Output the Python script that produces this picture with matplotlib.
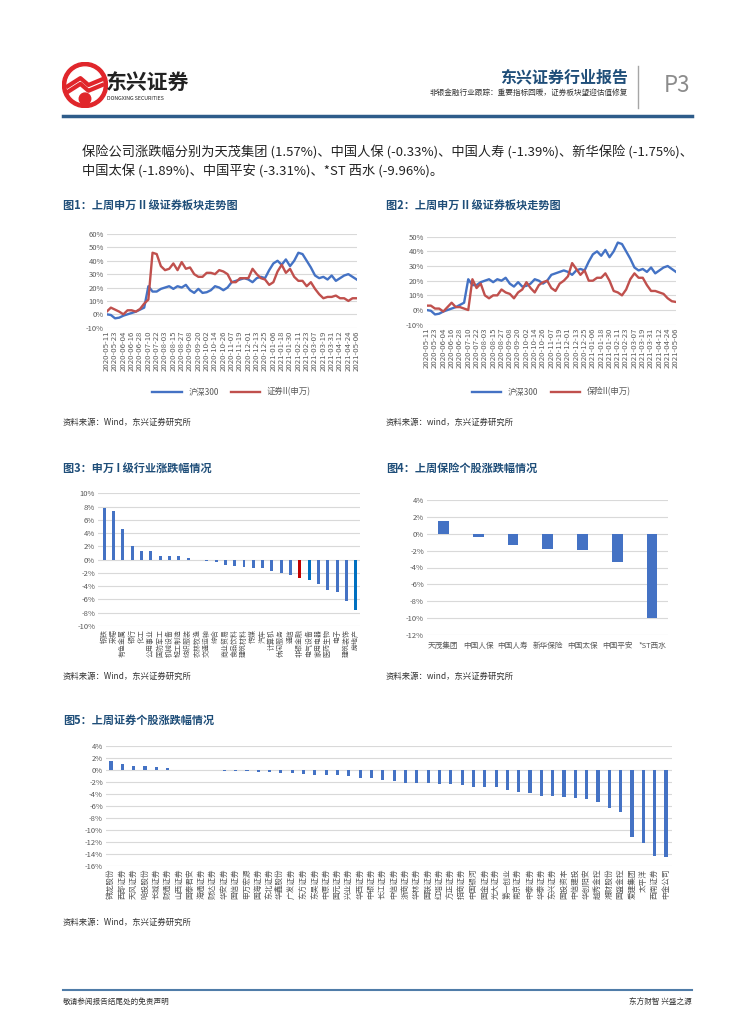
import numpy as np
import pandas as pd
import matplotlib
matplotlib.use('Agg')
import matplotlib.pyplot as plt
from matplotlib.patches import Circle
from matplotlib.ticker import FuncFormatter

plt.rcParams['font.family'] = ['Noto Sans CJK SC', 'DejaVu Sans']

W, H = 755, 1024

# ---- data ----
line_dates = pd.date_range('2020-05-11', periods=61, freq='6D')
date_ticks = pd.date_range('2020-05-11', periods=31, freq='12D').strftime('%Y-%m-%d').tolist()

hs300 = [0, -0.5, -3, -2.5, -1, 0, 1, 2, 3.5, 5, 21, 17, 17, 19, 20, 21, 19, 21, 20, 22,
         18, 16, 19, 16, 16.5, 18, 21, 20, 18, 20, 24, 25, 26, 27, 26, 24, 27, 28, 27, 33,
         38, 40, 37, 41, 36, 40, 46, 45, 40, 35, 29, 27, 28, 26, 29, 25, 27, 29, 30, 28, 26]
sec2 = [2, 5, 3.5, 2, 0, 3, 3, 2, 4, 8, 11, 46, 45, 36, 33, 34, 38, 33, 39, 34,
        35, 30, 28, 28, 31, 31, 30, 33, 32, 30, 24, 24, 27, 27, 27, 34, 30, 27, 26, 22,
        24, 32, 37, 31, 34, 28, 25, 25, 21, 24, 19, 15, 12, 13, 13, 14, 12, 12, 10, 12, 12]
ins2 = [3, 3, 1, 1, -1, 2, 5, 2, 2, 1, 0, 21, 15, 18, 10, 8, 10, 10, 14, 12,
        11, 8, 12, 14, 19, 15, 12, 17, 19, 20, 15, 13, 18, 20, 23, 32, 28, 24, 27, 20,
        20, 22, 22, 25, 20, 13, 12, 10, 14, 21, 25, 22, 22, 17, 13, 13, 12, 11, 8, 6, 5.5]

sw_names = ['钢铁', '采掘', '有色金属', '银行', '化工', '公用事业', '国防军工', '机械设备', '轻工制造',
            '纺织服装', '农林牧渔', '交通运输', '综合', '商业贸易', '食品饮料', '建筑材料', '传媒', '汽车',
            '计算机', '休闲服务', '通信', '非银金融', '电气设备', '家用电器', '医药生物', '电子',
            '建筑装饰', '房地产']
sw_chg = [7.8, 7.4, 4.6, 2.1, 1.25, 1.25, 0.5, 0.5, 0.5, 0.2, 0.02, -0.2, -0.35, -0.8,
          -0.9, -1.05, -1.2, -1.3, -1.75, -2.0, -2.3, -2.7, -3.0, -3.6, -4.6, -4.9, -6.2, -7.6]

ins_names = ['天茂集团', '中国人保', '中国人寿', '新华保险', '中国太保', '中国平安', '*ST西水']
ins_chg = [1.57, -0.33, -1.39, -1.75, -1.89, -3.31, -9.96]

sec_names = ['锦龙股份', '西部证券', '天风证券', '哈投股份', '长城证券', '财通证券', '山西证券', '国泰君安',
             '海通证券', '财达证券', '华安证券', '国信证券', '申万宏源', '国海证券', '东北证券', '华鑫股份',
             '广发证券', '东方证券', '东吴证券', '中原证券', '国元证券', '兴业证券', '华西证券', '中银证券',
             '长江证券', '中信证券', '浙商证券', '华林证券', '国联证券', '红塔证券', '方正证券', '招商证券',
             '中国银河', '国金证券', '光大证券', '第一创业', '南京证券', '中泰证券', '华泰证券', '东兴证券',
             '国投资本', '中信建投', '华创阳安', '越秀金控', '湘财股份', '国盛金控', '爱建集团', '太平洋',
             '西南证券', '中金公司']
sec_chg = [1.56, 0.94, 0.6, 0.6, 0.55, 0.28, 0.03, 0.02, 0.01, 0.01, -0.2, -0.2, -0.2, -0.25,
           -0.4, -0.55, -0.55, -0.65, -0.9, -0.9, -0.9, -1.0, -1.3, -1.3, -1.6, -1.75, -2.2, -2.2,
           -2.2, -2.35, -2.35, -2.5, -2.8, -2.8, -2.8, -3.3, -3.7, -3.9, -4.3, -4.35, -4.55, -4.7,
           -4.8, -5.3, -6.35, -7.0, -11.1, -12.1, -14.4, -14.5]

BLUE = '#4472C4'
RED = '#C0504D'
DARK = '#1F4E79'
GRID = '#D9D9D9'
TICK = '#595959'

fig = plt.figure(figsize=(W / 100, H / 100), dpi=100)


def px_axes(x0, y0, x1, y1):
    return fig.add_axes([x0 / W, 1 - y1 / H, (x1 - x0) / W, (y1 - y0) / H])


def ftext(x, y, s, **kw):
    fig.text(x / W, 1 - y / H, s, **kw)


pct = FuncFormatter(lambda v, p: '%d%%' % round(v))


def style_axes(ax, yticks):
    ax.set_yticks(yticks)
    ax.yaxis.set_major_formatter(pct)
    ax.grid(axis='y', color=GRID, lw=0.8)
    ax.set_axisbelow(True)
    for s in ax.spines.values():
        s.set_visible(False)
    ax.tick_params(length=0, labelsize=5.5, colors=TICK, pad=2)


# ---- header ----
lg = px_axes(62, 62, 108, 108)
lg.set_xlim(-1, 1); lg.set_ylim(-1, 1); lg.axis('off')
lg.add_patch(Circle((0, 0), 0.98, color='#E0262B'))
lg.add_patch(Circle((0, 0), 0.78, color='white'))
for dy in (-0.05, -0.3):
    lg.plot([-0.75, -0.2, 0.15, 0.75], [dy, dy + 0.35, dy + 0.05, dy + 0.3], color='#E0262B', lw=3)
lg.add_patch(Circle((0, -0.6), 0.25, color='#E0262B'))
ftext(106, 82, '东兴证券', fontsize=15, fontweight='bold', color='#222222', va='center')
ftext(107, 98, 'DONGXING SECURITIES', fontsize=3.8, color='#222222', va='center')

ftext(628, 77, '东兴证券行业报告', fontsize=11.5, fontweight='bold', color=DARK, ha='right', va='center')
ftext(628, 93, '非银金融行业跟踪：重要指标回暖，证券板块望迎估值修复', fontsize=5.5,
      color='#333333', ha='right', va='center')
fig.add_artist(plt.Line2D([638 / W, 638 / W], [1 - 66 / H, 1 - 108 / H], color='#A6A6A6', lw=1))
ftext(664, 86, 'P3', fontsize=16, color='#8C8C8C', va='center')
fig.add_artist(plt.Line2D([63 / W, 692 / W], [1 - 116 / H, 1 - 116 / H], color='#2E5C8A', lw=2.5))

ftext(82, 152, '保险公司涨跌幅分别为天茂集团 (1.57%)、中国人保 (-0.33%)、中国人寿 (-1.39%)、新华保险 (-1.75%)、',
      fontsize=9.5, color='#222222', va='center')
ftext(82, 172, '中国太保 (-1.89%)、中国平安 (-3.31%)、*ST 西水 (-9.96%)。',
      fontsize=9.5, color='#222222', va='center')

# ---- titles & sources ----
for x, y, s in [(63, 205, '图1：上周申万 II 级证券板块走势图'), (386, 205, '图2：上周申万 II 级证券板块走势图'),
                (63, 468, '图3：申万 I 级行业涨跌幅情况'), (386, 468, '图4：上周保险个股涨跌幅情况'),
                (63, 720, '图5：上周证券个股涨跌幅情况')]:
    ftext(x, y, s, fontsize=8, fontweight='bold', color=DARK, va='center')
for x, y, s in [(63, 422, '资料来源：Wind，东兴证券研究所'), (386, 422, '资料来源：wind，东兴证券研究所'),
                (63, 676, '资料来源：Wind，东兴证券研究所'), (386, 676, '资料来源：wind，东兴证券研究所'),
                (63, 922, '资料来源：Wind，东兴证券研究所')]:
    ftext(x, y, s, fontsize=6, color='#333333', va='center', style='italic')

days = (line_dates - line_dates[0]).days


def line_chart(box, yl, yticks, red, red_label, leg_y):
    ax = px_axes(*box)
    ax.plot(days, hs300, color=BLUE, lw=1.7, label='沪深300')
    ax.plot(days, red, color=RED, lw=1.7, label=red_label)
    ax.set_xlim(0, 360)
    ax.set_ylim(*yl)
    style_axes(ax, yticks)
    ax.set_xticks(np.arange(0, 361, 12))
    ax.set_xticklabels(date_ticks, rotation=90, fontsize=5.6)
    ax.legend(loc='center', bbox_to_anchor=((box[0] + box[2]) / 2 / W, 1 - leg_y / H),
              bbox_transform=fig.transFigure, ncol=2, frameon=False, fontsize=6,
              handlelength=3.5, columnspacing=1.5, labelcolor=TICK)
    return ax


line_chart((106.7, 234, 356.7, 327.7), (-10, 60), range(-10, 61, 10), sec2, '证券II(申万)', 392)
line_chart((426.7, 236.7, 676, 324.7), (-10, 50), range(-10, 51, 10), ins2, '保险II(申万)', 392)

# ---- chart 3 ----
ax3 = px_axes(98, 493.3, 360, 626)
c3 = [BLUE] * len(sw_chg)
c3[21] = '#C00000'
c3[22] = '#0070C0'
c3[27] = '#0070C0'
ax3.bar(range(len(sw_chg)), sw_chg, width=0.32, color=c3)
ax3.set_xlim(-0.68, 27.46)
ax3.set_ylim(-10, 10)
style_axes(ax3, range(-10, 11, 2))
ax3.set_xticks(range(len(sw_names)))
ax3.set_xticklabels(sw_names, rotation=90, fontsize=5, va='top')

# ---- chart 4 ----
ax4 = px_axes(426.7, 500, 668, 635)
ax4.bar(range(len(ins_chg)), ins_chg, width=0.31, color=BLUE)
ax4.set_xlim(-0.48, 6.46)
ax4.set_ylim(-12, 4)
style_axes(ax4, range(-12, 5, 2))
ax4.set_xticks(range(len(ins_names)))
ax4.set_xticklabels(ins_names, fontsize=5.5)
ax4.tick_params(axis='x', pad=5)

# ---- chart 5 ----
ax5 = px_axes(105.7, 746, 672, 866)
ax5.bar(range(len(sec_chg)), sec_chg, width=0.28, color=BLUE)
ax5.set_xlim(-0.47, 49.53)
ax5.set_ylim(-16, 4)
style_axes(ax5, range(-16, 5, 2))
ax5.set_xticks(range(len(sec_names)))
ax5.set_xticklabels(sec_names, rotation=90, fontsize=5.5, va='top')

# ---- footer ----
fig.add_artist(plt.Line2D([63 / W, 692 / W], [1 - 990 / H, 1 - 990 / H], color='#4F7CA8', lw=1.5))
ftext(63, 1002, '敬请参阅报告结尾处的免责声明', fontsize=5.5, color='#333333', va='center')
ftext(692, 1002, '东方财智 兴盛之源', fontsize=5.5, color='#333333', va='center', ha='right')

fig.savefig('out.png', dpi=100)
